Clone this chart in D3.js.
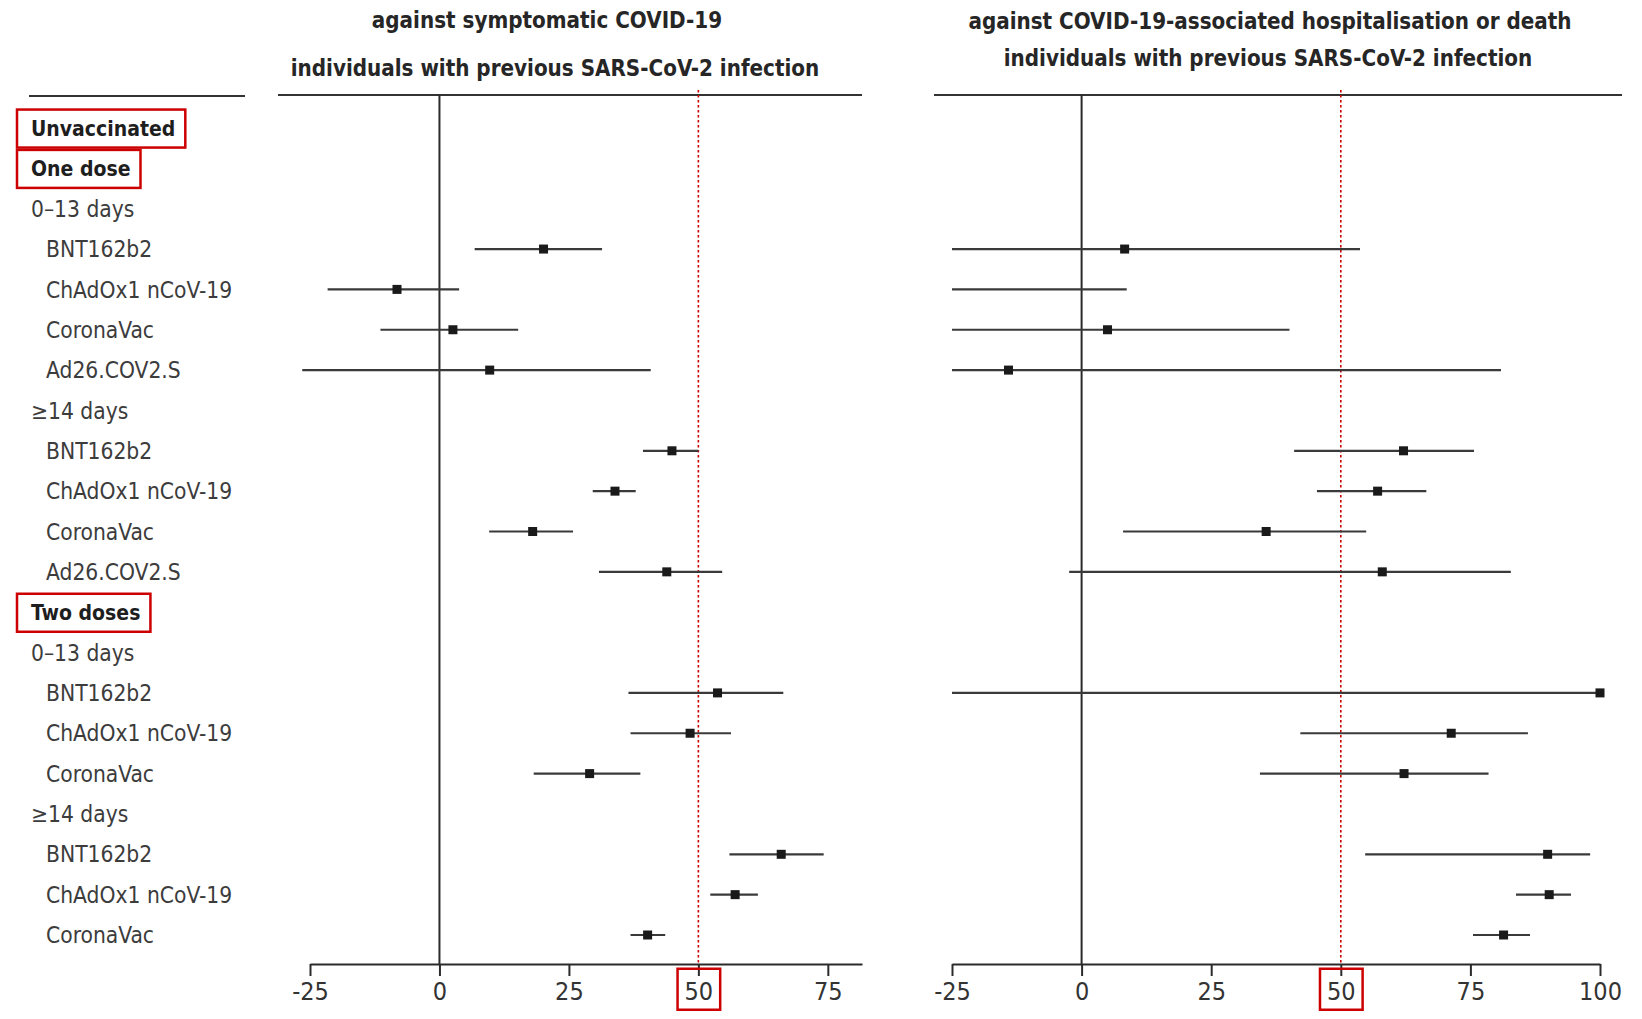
<!DOCTYPE html>
<html>
<head>
<meta charset="utf-8">
<script src="https://cdn.jsdelivr.net/npm/d3@7"></script>
<style>
  body { margin: 0; background: #fff; }
  text { font-family: "DejaVu Sans Condensed", "Liberation Sans Narrow", sans-serif; }
</style>
</head>
<body>
<div id="chart"></div>
<script>
// Row labels, top to bottom
const rowLabels = [
    "Unvaccinated", "One dose",
    "0–13 days", "BNT162b2", "ChAdOx1 nCoV-19", "CoronaVac", "Ad26.COV2.S",
    "≥14 days", "BNT162b2", "ChAdOx1 nCoV-19", "CoronaVac", "Ad26.COV2.S",
    "Two doses",
    "0–13 days", "BNT162b2", "ChAdOx1 nCoV-19", "CoronaVac",
    "≥14 days", "BNT162b2", "ChAdOx1 nCoV-19", "CoronaVac"
];
const rowLevels = [
    "group", "group",
    "period", "vaccine", "vaccine", "vaccine", "vaccine",
    "period", "vaccine", "vaccine", "vaccine", "vaccine",
    "group",
    "period", "vaccine", "vaccine", "vaccine",
    "period", "vaccine", "vaccine", "vaccine"
];
const boxedRows = ["Unvaccinated", "One dose", "Two doses"];

// Effectiveness against symptomatic COVID-19 (%)
const symEst = [null, null, null, 20.1, -8.2, 2.6, 9.7, null, 44.9, 33.9, 18.0, 43.9, null, null, 53.7, 48.4, 29.0, null, 66.0, 57.1, 40.2];
const symLow = [null, null, null, 6.8, -21.6, -11.4, -26.5, null, 39.3, 29.6, 9.6, 30.8, null, null, 36.5, 36.9, 18.2, null, 56.0, 52.3, 36.9];
const symHigh = [null, null, null, 31.4, 3.8, 15.2, 40.8, null, 50.0, 37.9, 25.8, 54.6, null, null, 66.4, 56.3, 38.8, null, 74.2, 61.5, 43.6];

// Effectiveness against hospitalisation or death (%)
const hospEst = [null, null, null, 8.3, null, 5.0, -14.1, null, 62.1, 57.1, 35.6, 58.0, null, null, 100, 71.3, 62.2, null, 89.9, 90.2, 81.4];
const hospLow = [null, null, null, -25, -25, -25, -25, null, 41.0, 45.4, 8.0, -2.4, null, null, -25, 42.2, 34.4, null, 54.7, 83.8, 75.5];
const hospHigh = [null, null, null, 53.7, 8.7, 40.1, 80.9, null, 75.7, 66.5, 54.9, 82.8, null, null, 100, 86.1, 78.5, null, 98.1, 94.4, 86.5];

const symTicks = [-25, 0, 25, 50, 75];
const hospTicks = [-25, 0, 25, 50, 75, 100];
const referenceLine = 50;

const width = 1642, height = 1019;
const topLine = 95, axisY = 964;
const red = "#cc0000", ink = "#2b2b2b";

const svg = d3.select("#chart").append("svg")
    .attr("width", width)
    .attr("height", height);

const y = d3.scaleLinear()
    .domain([0, rowLabels.length - 1])
    .range([128, 935]);

// Left label column
svg.append("line")
    .attr("x1", 29).attr("x2", 245)
    .attr("y1", topLine + 1).attr("y2", topLine + 1)
    .attr("stroke", "#333").attr("stroke-width", 2.2);

const labels = svg.append("g").selectAll("text")
    .data(rowLabels)
    .join("text")
    .attr("x", (d, i) => rowLevels[i] === "vaccine" ? 46 : 31)
    .attr("y", (d, i) => y(i))
    .attr("dy", "0.36em")
    .attr("font-size", (d, i) => rowLevels[i] === "group" ? 21 : 22.6)
    .attr("font-weight", (d, i) => rowLevels[i] === "group" ? "bold" : "normal")
    .attr("fill", (d, i) => rowLevels[i] === "group" ? "#1e1e1e" : "#3c3c3c")
    .text(d => d);

// red boxes round the group headers
labels.filter(d => boxedRows.includes(d)).each(function () {
    const b = this.getBBox();
    svg.append("rect")
        .attr("x", 17).attr("y", b.y - 7)
        .attr("width", b.x + b.width + 10 - 17)
        .attr("height", b.height + 14)
        .attr("fill", "none")
        .attr("stroke", red).attr("stroke-width", 2.5);
});

const panels = [
    {
        x: d3.scaleLinear().domain([-25, 81.6]).range([310, 862]),
        ticks: symTicks, est: symEst, low: symLow, high: symHigh,
        border: [278, 862],
        titles: [["against symptomatic COVID-19", 547, 20], ["individuals with previous SARS-CoV-2 infection", 555, 68]]
    },
    {
        x: d3.scaleLinear().domain([-25, 100]).range([952, 1600]),
        ticks: hospTicks, est: hospEst, low: hospLow, high: hospHigh,
        border: [934, 1622],
        titles: [["against COVID-19-associated hospitalisation or death", 1270, 21], ["individuals with previous SARS-CoV-2 infection", 1268, 58]]
    }
];

panels.forEach(p => {
    const g = svg.append("g");

    g.selectAll("text.title")
        .data(p.titles)
        .join("text")
        .attr("class", "title")
        .attr("x", d => d[1])
        .attr("y", d => d[2])
        .attr("dy", "0.36em")
        .attr("text-anchor", "middle")
        .attr("font-size", 22.2)
        .attr("font-weight", "bold")
        .attr("fill", "#262626")
        .text(d => d[0]);

    g.append("line")
        .attr("x1", p.border[0]).attr("x2", p.border[1])
        .attr("y1", topLine).attr("y2", topLine)
        .attr("stroke", "#333").attr("stroke-width", 2.2);

    // zero line
    g.append("line")
        .attr("x1", p.x(0)).attr("x2", p.x(0))
        .attr("y1", topLine).attr("y2", axisY)
        .attr("stroke", ink).attr("stroke-width", 2);

    // 50% reference line
    g.append("line")
        .attr("x1", p.x(referenceLine)).attr("x2", p.x(referenceLine))
        .attr("y1", 90).attr("y2", axisY)
        .attr("stroke", red).attr("stroke-width", 1.6)
        .attr("stroke-dasharray", "2.5,2.5");

    // axis
    const axis = g.append("g")
        .attr("transform", `translate(0,${axisY})`)
        .call(d3.axisBottom(p.x)
            .tickValues(p.ticks)
            .tickSize(12)
            .tickSizeOuter(0)
            .tickPadding(6)
            .tickFormat(d => String(d)));
    axis.select(".domain").attr("stroke", ink).attr("stroke-width", 2);
    axis.selectAll(".tick line").attr("stroke", ink).attr("stroke-width", 2);
    axis.selectAll(".tick text")
        .attr("font-size", 25)
        .attr("font-family", "DejaVu Sans Condensed, Liberation Sans Narrow, sans-serif")
        .attr("fill", "#333");

    // red box round the 50 tick label
    axis.selectAll(".tick").filter(d => d === referenceLine).each(function () {
        const t = d3.select(this).select("text").node().getBBox();
        d3.select(this).append("rect")
            .attr("x", t.x - 7).attr("y", t.y - 8)
            .attr("width", t.width + 14).attr("height", t.height + 12)
            .attr("fill", "none")
            .attr("stroke", red).attr("stroke-width", 2.5);
    });

    const idx = d3.range(rowLabels.length).filter(i => p.low[i] !== null);

    g.selectAll("line.ci")
        .data(idx)
        .join("line")
        .attr("class", "ci")
        .attr("x1", i => p.x(p.low[i]))
        .attr("x2", i => p.x(p.high[i]))
        .attr("y1", i => y(i)).attr("y2", i => y(i))
        .attr("stroke", "#3a3a3a").attr("stroke-width", 2.2);

    const s = 9;
    g.selectAll("rect.est")
        .data(idx.filter(i => p.est[i] !== null))
        .join("rect")
        .attr("class", "est")
        .attr("x", i => p.x(p.est[i]) - s / 2)
        .attr("y", i => y(i) - s / 2)
        .attr("width", s).attr("height", s)
        .attr("fill", "#1a1a1a");
});
</script>
</body>
</html>
